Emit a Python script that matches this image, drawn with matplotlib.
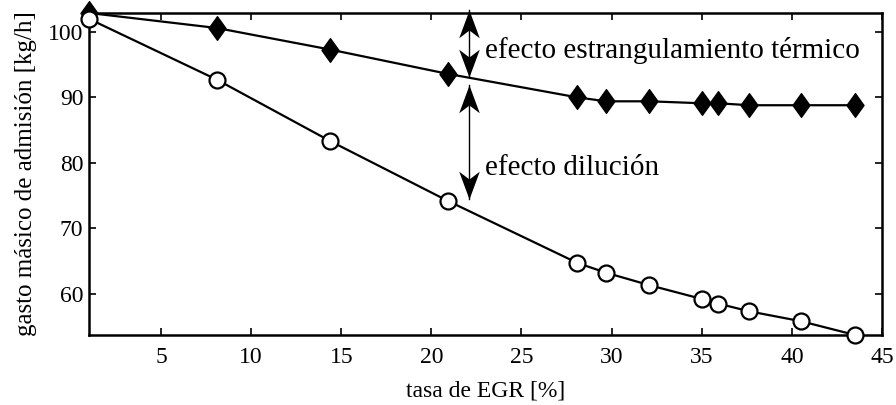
import numpy as np
import matplotlib
matplotlib.use('Agg')
import matplotlib.pyplot as plt
from matplotlib.path import Path

plt.rcParams['font.family'] = ['Liberation Serif', 'DejaVu Serif']

# tasa de EGR [%]
egr = [1.0, 8.1, 14.4, 20.9, 28.1, 29.7, 32.1, 35.0, 35.9, 37.65, 40.5, 43.5]
# con estrangulamiento térmico (rombos) y solo dilución (círculos)
gasto_termico = [102.9, 100.6, 97.3, 93.6, 90.0, 89.4, 89.4, 89.1, 89.1, 88.8, 88.8, 88.8]
gasto_dilucion = [102.0, 92.7, 83.3, 74.2, 64.7, 63.2, 61.3, 59.2, 58.5, 57.3, 55.8, 53.7]

xticks = [5, 10, 15, 20, 25, 30, 35, 40, 45]
yticks = [60, 70, 80, 90, 100]

# rombo alargado tipo MATLAB
rombo = Path([(0, 1), (0.72, 0), (0, -1), (-0.72, 0), (0, 1)],
             [Path.MOVETO, Path.LINETO, Path.LINETO, Path.LINETO, Path.CLOSEPOLY])

# puntas de flecha con la base hundida (la punta queda en el origen)
punta_arriba = Path([(0, 0), (0.37, -1), (0, -0.72), (-0.37, -1), (0, 0)],
                    [Path.MOVETO, Path.LINETO, Path.LINETO, Path.LINETO, Path.CLOSEPOLY])
punta_abajo = Path([(0, 0), (0.37, 1), (0, 0.72), (-0.37, 1), (0, 0)],
                   [Path.MOVETO, Path.LINETO, Path.LINETO, Path.LINETO, Path.CLOSEPOLY])

fig = plt.figure(figsize=(8.96, 4.05), dpi=100)
ax = fig.add_axes([0.0993, 0.173, 0.885, 0.795])

ax.plot(egr, gasto_termico, color='k', lw=1.6, marker=rombo, ms=17,
        mfc='k', mec='k', clip_on=False, zorder=3)
ax.plot(egr, gasto_dilucion, color='k', lw=1.6, marker='o', ms=11.5,
        mfc='white', mec='k', mew=1.6, clip_on=False, zorder=3)

ax.set_xlim(1, 45)
ax.set_ylim(min(gasto_dilucion), max(gasto_termico))
ax.set_xticks(xticks)
ax.set_yticks(yticks)

ax.tick_params(direction='in', length=5, width=1.2, labelsize=17,
               top=True, right=True)
ax.tick_params(axis='x', pad=9)
ax.tick_params(axis='y', pad=4)
for s in ax.spines.values():
    s.set_linewidth(1.8)

ax.set_xlabel('tasa de EGR [%]', fontsize=17, labelpad=9)
ax.set_ylabel('gasto másico de admisión [kg/h]', fontsize=18, labelpad=8)

# flechas dobles de los dos efectos
x_flecha = 22.1
tramos = [(93.1, 103.3), (74.4, 91.9)]
for y0, y1 in tramos:
    ax.plot([x_flecha, x_flecha], [y0, y1], color='k', lw=1.0, clip_on=False)
    ax.plot([x_flecha], [y1], marker=punta_arriba, ms=40, color='k',
            mew=0, clip_on=False, zorder=4)
    ax.plot([x_flecha], [y0], marker=punta_abajo, ms=40, color='k',
            mew=0, clip_on=False, zorder=4)

ax.text(23.0, 97.1, 'efecto estrangulamiento térmico', fontsize=21,
        va='center', ha='left')
ax.text(23.0, 79.2, 'efecto dilución', fontsize=21, va='center', ha='left')

fig.savefig('out.png', dpi=100)
